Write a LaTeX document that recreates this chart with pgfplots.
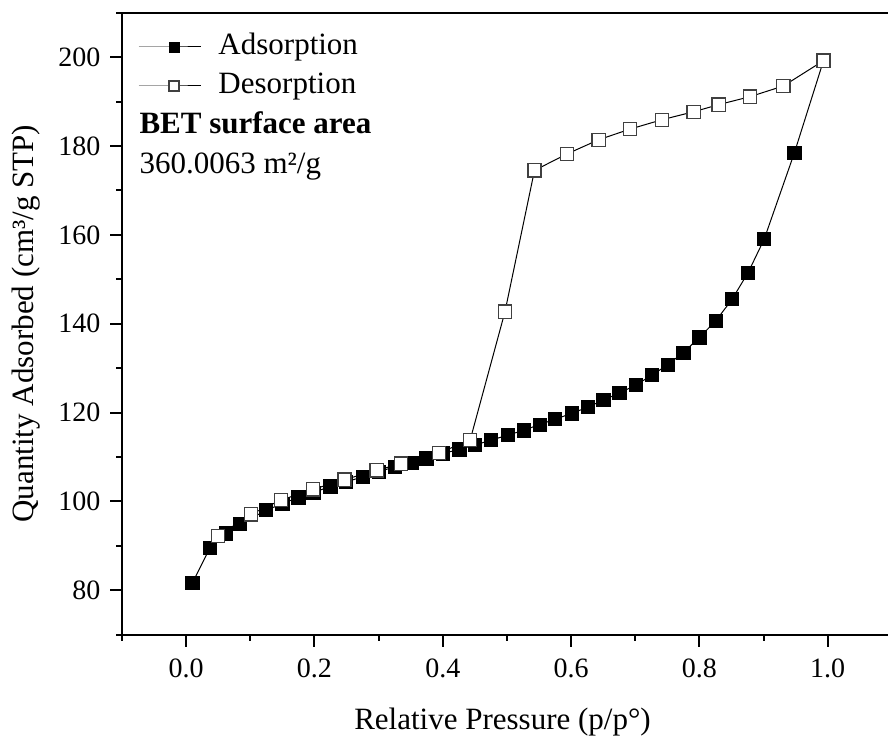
\documentclass[border=0pt]{standalone}
\usepackage{fontspec}
\setmainfont{Liberation Serif}
\usepackage{pgfplots}
\pgfplotsset{compat=1.18}

\pgfplotstableread{
x y
0.0099 81.7
0.037 89.5
0.0624 92.8
0.084 94.9
0.1247 98.0
0.150 99.5
0.175 100.9
0.1985 102.0
0.225 103.4
0.249 104.4
0.275 105.5
0.300 106.7
0.326 107.8
0.352 108.7
0.3746 109.7
0.400 110.8
0.426 111.7
0.4505 112.7
0.4754 113.8
0.501 114.9
0.526 116.0
0.551 117.3
0.575 118.5
0.601 119.8
0.6257 121.2
0.6505 122.8
0.6755 124.4
0.701 126.2
0.726 128.4
0.751 130.8
0.775 133.5
0.800 136.9
0.826 140.7
0.851 145.5
0.876 151.5
0.901 159.0
0.948 178.4
0.9935 199.2
}\adsdata

\pgfplotstableread{
x y
0.9935 199.2
0.931 193.5
0.879 191.1
0.830 189.3
0.791 187.7
0.7415 185.9
0.692 183.8
0.643 181.4
0.5935 178.2
0.543 174.5
0.497 142.7
0.4427 113.8
0.394 110.9
0.3347 108.5
0.297 107.0
0.2468 104.9
0.1975 102.7
0.148 100.3
0.1008 97.1
0.0499 92.2
}\desdata

\begin{document}
\begin{tikzpicture}
\begin{axis}[
    name=ax,
    scale only axis,
    width=769.8pt, height=622pt,
    xmin=-0.1, xmax=1.1,
    ymin=70, ymax=210,
    xtick={0,0.2,...,1.0},
    minor xtick={-0.1,0.1,...,1.1},
    ytick={80,100,...,200},
    minor ytick={70,90,...,210},
    xtick pos=bottom, ytick pos=left,
    tick align=outside,
    major tick length=12pt, minor tick length=6pt,
    axis line style={line width=2.2pt},
    every tick/.style={line width=2pt, black},
    tick label style={font=\fontsize{28}{28}\selectfont},
    /pgf/number format/assume math mode=true,
    xticklabel style={yshift=-9pt, /pgf/number format/.cd, fixed, fixed zerofill, precision=1},
    yticklabel style={xshift=-6pt},
    label style={font=\fontsize{31}{31}\selectfont},
    xlabel={Relative Pressure (p/p°)},
    ylabel={Quantity Adsorbed (cm³/g STP)},
    xlabel style={at={(axis description cs:0.5,0)}, anchor=base, inner sep=0pt, xshift=-4.4pt, yshift=-94.6pt},
    ylabel style={at={(axis description cs:0,0.5)}, anchor=base, inner sep=0pt, yshift=88.5pt},
    legend style={at={(axis description cs:0,1)}, anchor=north west,
        xshift=16.3pt, yshift=-19.6pt, draw=none, fill=none, inner sep=0pt,
        font=\fontsize{31}{31}\selectfont, row sep=10pt, column sep=17pt,
        nodes={inner sep=0pt, text height=22pt, text depth=7pt}},
    legend cell align=left,
    legend image code/.code={\draw[mark repeat=2, mark phase=2, mark size=5pt] plot coordinates {(0pt,0pt) (35pt,0pt) (62pt,0pt)};},
]
\addplot[black, line width=1pt, mark=square*, mark size=6.6pt,
    mark options={fill=black, draw=black, line width=0.8pt}] table[x=x, y=y] {\adsdata};
\addlegendentry{Adsorption}
\addplot[black, line width=1pt, mark=square*, mark size=6.6pt,
    mark options={fill=white, draw=black!75, line width=1.3pt}] table[x=x, y=y] {\desdata};
\addlegendentry{Desorption}
\end{axis}
\node[anchor=base west, inner sep=0pt, font=\fontsize{31}{31}\selectfont\bfseries]
    at ([shift={(17.3pt,-120.6pt)}]ax.north west) {BET surface area};
\node[anchor=base west, inner sep=0pt, font=\fontsize{31}{31}\selectfont]
    at ([shift={(17.3pt,-160.6pt)}]ax.north west) {360.0063 m²/g};
\pgfresetboundingbox
\useasboundingbox ([shift={(-122pt,-103.3pt)}]ax.south west) rectangle ([shift={(766pt,12.7pt)}]ax.north west);
\end{tikzpicture}
\end{document}
